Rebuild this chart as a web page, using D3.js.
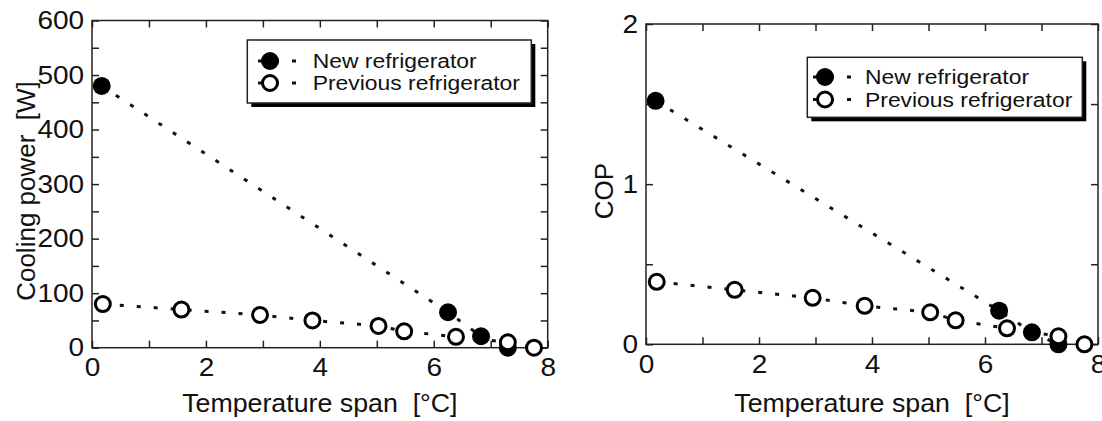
<!DOCTYPE html>
<html><head><meta charset="utf-8">
<script src="https://cdn.jsdelivr.net/npm/d3@7"></script>
<style>
html,body{margin:0;padding:0;background:#fff;}
svg{display:block;}
text{font-family:"Liberation Sans",Arial,Helvetica,sans-serif;fill:#111;}
</style></head><body>
<svg id="chart" width="1102" height="421"></svg>
<script>
// Temperature span [°C] of each measured point
const spanNew = [0.17, 6.25, 6.83, 7.3];
const spanPrev = [0.19, 1.57, 2.95, 3.87, 5.03, 5.48, 6.39, 7.3, 7.76];
// Cooling power [W]
const powerNew = [480, 65, 21, 0];
const powerPrev = [80, 70, 60, 50, 40, 30, 20, 10, 0];
// Coefficient of performance
const copNew = [1.52, 0.21, 0.075, 0];
const copPrev = [0.39, 0.34, 0.29, 0.24, 0.20, 0.15, 0.10, 0.05, 0];

const seriesNames = ["New refrigerator", "Previous refrigerator"];
const xTicks = [0, 1, 2, 3, 4, 5, 6, 7, 8];
const xLabelTicks = [0, 2, 4, 6, 8];
const powerTicks = [0, 50, 100, 150, 200, 250, 300, 350, 400, 450, 500, 550, 600];
const powerLabelTicks = [0, 100, 200, 300, 400, 500, 600];
const copTicks = [0, 0.5, 1, 1.5, 2];
const copLabelTicks = [0, 1, 2];

const svg = d3.select("#chart");

const panels = [
  {
    box: {x: 92, y: 20.5, w: 455.7, h: 327.2},
    yDomain: [0, 600], yTicks: powerTicks, yLabels: powerLabelTicks,
    yTitle: "Cooling power\u00a0\u00a0[W]", yTitlePos: [35, 191],
    newVals: powerNew, prevVals: powerPrev,
    legend: {x: 247.3, y: 40, w: 284, h: 63, mx: 270, rows: [61, 83], tx: 312.7}
  },
  {
    box: {x: 646, y: 24, w: 452, h: 320.3},
    yDomain: [0, 2], yTicks: copTicks, yLabels: copLabelTicks,
    yTitle: "COP", yTitlePos: [613, 191],
    newVals: copNew, prevVals: copPrev,
    legend: {x: 807.3, y: 57.3, w: 275, h: 60, mx: 825, rows: [77, 99.5], tx: 865}
  }
];

const TICK = 7;
const FONT = '"Liberation Sans",Arial,sans-serif';

panels.forEach(p => {
  const b = p.box;
  const g = svg.append("g").attr("transform", `translate(${b.x},${b.y})`);
  const x = d3.scaleLinear().domain([0, 8]).range([0, b.w]);
  const y = d3.scaleLinear().domain(p.yDomain).range([b.h, 0]);

  const xFmt = v => xLabelTicks.includes(v) ? d3.format("d")(v) : "";
  const yFmt = v => p.yLabels.includes(v) ? d3.format("~g")(v) : "";

  // inward ticks on all four sides
  const axB = g.append("g").attr("transform", `translate(0,${b.h})`)
    .call(d3.axisBottom(x).tickValues(xTicks).tickFormat(xFmt).tickSizeInner(-TICK).tickSizeOuter(0).tickPadding(11));
  const axT = g.append("g")
    .call(d3.axisTop(x).tickValues(xTicks).tickFormat("").tickSizeInner(-TICK).tickSizeOuter(0));
  const axL = g.append("g")
    .call(d3.axisLeft(y).tickValues(p.yTicks).tickFormat(yFmt).tickSizeInner(-TICK).tickSizeOuter(0).tickPadding(7));
  const axR = g.append("g").attr("transform", `translate(${b.w},0)`)
    .call(d3.axisRight(y).tickValues(p.yTicks).tickFormat("").tickSizeInner(-TICK).tickSizeOuter(0));
  [axB, axT, axL, axR].forEach(a => {
    a.select(".domain").remove();
    a.selectAll(".tick line").attr("stroke", "#222").attr("stroke-width", 1.5);
    a.selectAll(".tick text").attr("font-size", 25).attr("fill", "#111")
      .attr("font-family", FONT).attr("transform", "scale(1.12,1)");
  });

  g.append("rect").attr("x", 0).attr("y", 0).attr("width", b.w).attr("height", b.h)
    .attr("fill", "none").attr("stroke", "#222").attr("stroke-width", 1.5);

  // axis titles
  g.append("text")
    .attr("transform", `translate(${p.yTitlePos[0] - b.x},${p.yTitlePos[1] - b.y}) rotate(-90)`)
    .attr("text-anchor", "middle").attr("font-size", 26).text(p.yTitle);
  g.append("text")
    .attr("transform", `translate(${b.w / 2},${412 - b.y}) scale(1.05,1)`)
    .attr("text-anchor", "middle").attr("font-size", 25.5).text("Temperature span\u00a0\u00a0[°C]");

  const line = d3.line().x(d => x(d[0])).y(d => y(d[1]));
  const newPts = spanNew.map((s, i) => [s, p.newVals[i]]);
  const prevPts = spanPrev.map((s, i) => [s, p.prevVals[i]]);

  [newPts, prevPts].forEach(pts => {
    g.append("path").datum(pts).attr("d", line)
      .attr("fill", "none").attr("stroke", "#111").attr("stroke-width", 3)
      .attr("stroke-dasharray", "4,13");
  });

  g.selectAll("circle.new").data(newPts).join("circle").attr("class", "new")
    .attr("cx", d => x(d[0])).attr("cy", d => y(d[1])).attr("r", 9).attr("fill", "#000");
  g.selectAll("circle.prev").data(prevPts).join("circle").attr("class", "prev")
    .attr("cx", d => x(d[0])).attr("cy", d => y(d[1])).attr("r", 7.5)
    .attr("fill", "#fff").attr("stroke", "#000").attr("stroke-width", 3);

  // legend with drop shadow
  const L = p.legend;
  const lg = svg.append("g");
  lg.append("rect").attr("x", L.x + 4).attr("y", L.y + 4).attr("width", L.w).attr("height", L.h).attr("fill", "#000");
  lg.append("rect").attr("x", L.x).attr("y", L.y).attr("width", L.w).attr("height", L.h)
    .attr("fill", "#fff").attr("stroke", "#222").attr("stroke-width", 1.5);
  seriesNames.forEach((name, i) => {
    const cy = L.rows[i];
    lg.append("line").attr("x1", L.mx - 12).attr("x2", L.mx + 30).attr("y1", cy).attr("y2", cy)
      .attr("stroke", "#111").attr("stroke-width", 3).attr("stroke-dasharray", "4,13");
    if (i === 0) {
      lg.append("circle").attr("cx", L.mx).attr("cy", cy).attr("r", 9).attr("fill", "#000");
    } else {
      lg.append("circle").attr("cx", L.mx).attr("cy", cy).attr("r", 7.5)
        .attr("fill", "#fff").attr("stroke", "#000").attr("stroke-width", 3);
    }
    lg.append("text").attr("transform", `translate(${L.tx},${cy}) scale(1.09,1)`)
      .attr("dy", "0.35em").attr("font-size", 21).text(name);
  });
});
</script>
</body></html>
